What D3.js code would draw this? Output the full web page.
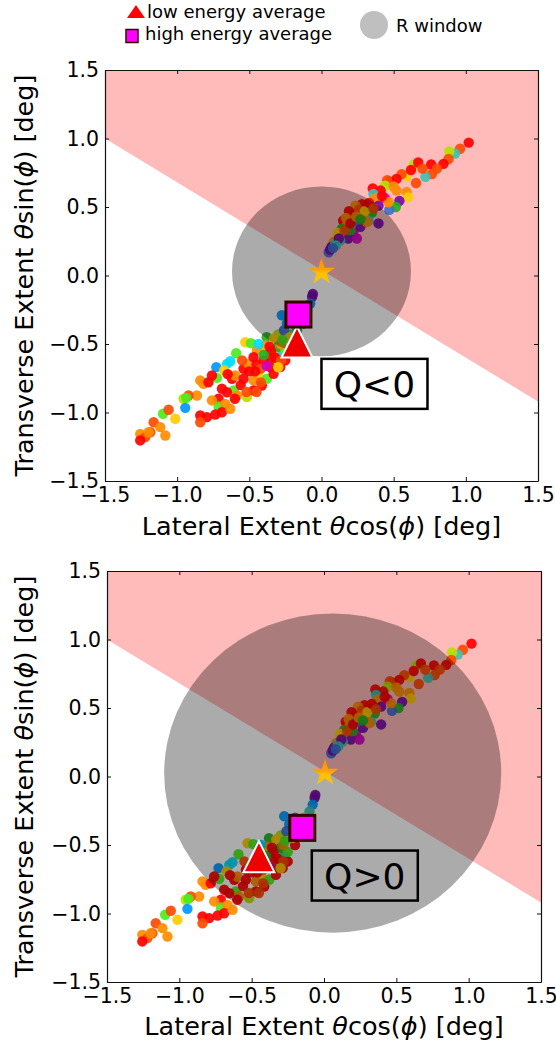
<!DOCTYPE html>
<html>
<head>
<meta charset="utf-8">
<script src="https://cdn.jsdelivr.net/npm/d3@7"></script>
<style>
  body { margin: 0; background: #fff; }
  svg text { font-family: "DejaVu Sans", sans-serif; fill: #000; }
</style>
</head>
<body>
<div id="chart"></div>
<script>
// ---- data ----------------------------------------------------------------
var ticks = [-1.5, -1.0, -0.5, 0.0, 0.5, 1.0, 1.5];
var domain = [-1.5, 1.5];

// cut line bounding the shaded (red) half-plane
var cutLine = [[-1.5, 1.0], [1.5, -0.92]];

// per panel: R window, average markers, star, label
var windowCenter = [[0.0, 0.03], [0.06, 0.025]];
var windowRadius = [0.62, 1.165];
var lowAvg  = [[-0.17, -0.485], [-0.45, -0.585]];
var highAvg = [[-0.16, -0.285], [-0.15, -0.375]];
var starPos = [[0.0, 0.025], [0.007, 0.025]];
var qText = ["Q<0", "Q>0"];
var qPos  = [[0.367, -0.791], [0.282, -0.723]];

// scatter points: lateral, transverse, colour class
var palette = { R: "#ff0000", OR: "#ff4a00", O: "#ff8c00", Y: "#ffcc00", YG: "#b8e000",
  LG: "#4cec1c", G: "#22b022", T: "#40c0b0", C: "#00dcff", A: "#0098ff", B: "#3f6fd0",
  P: "#7a0aa8", M: "#d400c0" };

var ptX = [1.02,0.96,0.925,0.885,0.88,0.845,0.76,0.80,0.765,0.72,0.64,0.67,0.655,0.59,0.555,0.52,0.475,0.455,0.44,0.355,0.52,0.59,0.60,0.41,0.44,0.54,0.515,0.47,0.36,0.37,0.465,0.395,
  0.28,0.235,0.315,0.255,0.35,0.325,0.395,0.21,0.15,0.175,0.14,0.22,0.27,0.185,0.12,0.13,0.085,0.07,0.05,0.095,0.245,0.315,0.19,0.17,0.23,0.26,0.11,0.06,0.20,0.29,
  0.16,0.2,0.24,0.3,0.33,0.12,0.1,0.08,0.27,0.36,0.42,0.5,0.62,0.7,
  -0.06,-0.065,-0.078,-0.10,-0.125,-0.17,-0.24,-0.275,-0.215,-0.30,-0.38,-0.33,-0.2,-0.14,-0.26,
  -0.528,-0.489,-0.591,-0.447,-0.39,-0.378,-0.436,-0.309,-0.274,-0.309,-0.632,-0.655,-0.729,-0.674,-0.724,-0.759,-0.84,-0.817,-0.783,-0.69,-0.62,-0.598,-0.54,-0.506,-0.471,-0.402,-0.355,-0.436,-0.471,-0.54,
  -0.609,-0.655,-0.586,-0.517,-0.471,-0.413,-0.378,-0.332,-0.286,-0.251,-0.713,-0.713,-0.667,-0.759,-0.863,-0.921,-0.956,-0.937,-0.944,-0.84,-0.794,-0.736,-0.69,-0.632,-0.84,
  -1.013,-1.098,-1.059,-1.163,-1.117,-1.186,-1.082,-1.256,-1.221,-1.256,-1.198,
  -0.45,-0.5,-0.42,-0.35,-0.3,-0.25,-0.56,-0.45,-0.38,-0.6,-0.52,-0.2,-0.22,-0.28,-0.35,
  -0.32,-0.28,-0.4,-0.46,-0.42,-0.3,-0.27,-0.36,-0.55,-0.65];
var ptY = [0.97,0.925,0.89,0.905,0.85,0.815,0.81,0.78,0.74,0.72,0.81,0.825,0.675,0.725,0.74,0.705,0.685,0.695,0.655,0.635,0.62,0.61,0.57,0.62,0.565,0.545,0.50,0.48,0.595,0.56,0.535,0.51,
  0.52,0.51,0.50,0.44,0.46,0.40,0.38,0.445,0.40,0.365,0.34,0.315,0.355,0.27,0.29,0.255,0.245,0.21,0.17,0.23,0.27,0.39,0.47,0.42,0.40,0.48,0.31,0.19,0.33,0.43,
  0.33,0.38,0.43,0.47,0.53,0.27,0.22,0.2,0.41,0.49,0.58,0.65,0.77,0.78,
  -0.135,-0.155,-0.205,-0.255,-0.35,-0.40,-0.35,-0.29,-0.43,-0.43,-0.45,-0.46,-0.3,-0.3,-0.4,
  -0.487,-0.494,-0.567,-0.547,-0.511,-0.547,-0.499,-0.572,-0.584,-0.626,-0.626,-0.645,-0.669,-0.693,-0.747,-0.73,-0.766,-0.791,-0.779,-0.827,-0.754,-0.73,-0.681,-0.645,-0.596,-0.62,-0.669,-0.73,-0.766,-0.754,
  -0.839,-0.852,-0.876,-0.888,-0.839,-0.803,-0.754,-0.718,-0.669,-0.62,-0.9,-0.956,-0.937,-0.912,-0.876,-0.876,-0.9,-0.893,-0.966,-1.022,-1.034,-1.015,-0.998,-0.973,-1.071,
  -1.046,-1.009,-0.98,-1.071,-1.107,-1.144,-1.168,-1.156,-1.18,-1.204,-1.144,
  -0.65,-0.7,-0.68,-0.6,-0.52,-0.55,-0.8,-0.85,-0.66,-0.9,-0.85,-0.5,-0.45,-0.5,-0.55,
  -0.6,-0.62,-0.58,-0.7,-0.78,-0.67,-0.47,-0.52,-0.62,-0.72];
var ptC = ["R","OR","T","YG","OR","R","R","OR","OR","T","YG","R","OR","Y","OR","R","R","OR","YG","R","O","O","Y","R","M","P","G","B","T","O","O","P",
  "R","O","R","Y","G","T","P","R","R","O","G","M","P","P","O","T","O","P","B","T","M","O","R","O","B","OR","Y","P","G","O",
  "OR","R","O","Y","R","P","T","B","G","OR","R","O","R","OR",
  "P","P","A","T","B","G","A","A","T","YG","G","Y","B","YG","B",
  "Y","LG","LG","O","O","YG","C","O","C","LG","C","C","A","Y","LG","R","O","O","R","R","R","O","R","O","R","R","R","Y","O","R",
  "LG","R","O","YG","R","R","LG","R","R","R","R","LG","O","O","O","OR","YG","LG","A","R","R","R","R","O","OR",
  "Y","LG","OR","OR","O","OR","O","O","OR","R","O",
  "R","R","OR","R","G","LG","R","OR","M","R","OR","R","Y","O","R",
  "R","OR","G","R","OR","Y","LG","R","OR","R"];

// ---- layout --------------------------------------------------------------
var W = 556, H = 1047;
var panels = [
  { x: [105, 538], y: [481, 70],  titleY: 535 },
  { x: [107, 541], y: [982, 571], titleY: 1035 }
];

var svg = d3.select("#chart").append("svg")
    .attr("width", W)
    .attr("height", H);

var fmt = d3.format(".1f");

function starPath(R) {
  var r = R * 0.382, pts = [];
  for (var i = 0; i < 10; i++) {
    var a = -Math.PI / 2 + i * Math.PI / 5, rr = i % 2 ? r : R;
    pts.push([rr * Math.cos(a), rr * Math.sin(a)]);
  }
  return "M" + pts.join("L") + "Z";
}

var defs = svg.append("defs");
var grad = defs.append("linearGradient").attr("id", "stargrad")
    .attr("x1", 0).attr("y1", 0).attr("x2", 0).attr("y2", 1);
grad.append("stop").attr("offset", "0%").attr("stop-color", "#ff9000");
grad.append("stop").attr("offset", "45%").attr("stop-color", "#ffa000");
grad.append("stop").attr("offset", "60%").attr("stop-color", "#ffc000");
grad.append("stop").attr("offset", "100%").attr("stop-color", "#ffc400");

panels.forEach(function(p, k) {
  var x = d3.scaleLinear().domain(domain).range(p.x);
  var y = d3.scaleLinear().domain(domain).range(p.y);

  defs.append("clipPath").attr("id", "clip" + k)
    .append("rect")
      .attr("x", p.x[0]).attr("y", p.y[1])
      .attr("width", p.x[1] - p.x[0]).attr("height", p.y[0] - p.y[1]);

  var g = svg.append("g").attr("clip-path", "url(#clip" + k + ")");

  // shaded half-plane above the cut line
  var poly = [cutLine[0], cutLine[1], [domain[1], domain[1]], [domain[0], domain[1]]];
  g.append("path")
    .attr("d", "M" + poly.map(function(d) { return [x(d[0]), y(d[1])]; }).join("L") + "Z")
    .style("fill", "#ff0000")
    .style("fill-opacity", 0.27);

  // scatter
  g.selectAll(".pt")
    .data(ptX)
    .enter().append("circle")
      .attr("class", "pt")
      .attr("cx", function(d) { return x(d); })
      .attr("cy", function(d, i) { return y(ptY[i]); })
      .attr("r", 5.2)
      .style("fill", function(d, i) { return palette[ptC[i]]; })
      .style("fill-opacity", 0.92);

  // R window
  g.append("ellipse")
    .attr("cx", x(windowCenter[k][0]))
    .attr("cy", y(windowCenter[k][1]))
    .attr("rx", x(windowRadius[k]) - x(0))
    .attr("ry", y(0) - y(windowRadius[k]))
    .style("fill", "#000")
    .style("fill-opacity", 0.33);

  // star
  g.append("path")
    .attr("d", starPath(14))
    .attr("transform", "translate(" + x(starPos[k][0]) + "," + y(starPos[k][1]) + ")")
    .style("fill", "url(#stargrad)");

  // low energy average (triangle)
  var tw = 31, th = 31;
  g.append("path")
    .attr("d", "M0," + (-th / 2) + "L" + (tw / 2) + "," + (th / 2) + "L" + (-tw / 2) + "," + (th / 2) + "Z")
    .attr("transform", "translate(" + x(lowAvg[k][0]) + "," + y(lowAvg[k][1]) + ")")
    .style("fill", "#ee0000")
    .style("stroke", "#fff")
    .style("stroke-width", 2)
    .style("stroke-linejoin", "miter");

  // high energy average (square)
  var s = 25;
  g.append("rect")
    .attr("x", x(highAvg[k][0]) - s / 2)
    .attr("y", y(highAvg[k][1]) - s / 2)
    .attr("width", s).attr("height", s)
    .style("fill", "#ff00ff")
    .style("stroke", "#3a0000")
    .style("stroke-width", 3);

  // Q label
  var qx = x(qPos[k][0]), qy = y(qPos[k][1]);
  svg.append("rect")
    .attr("x", qx - 53).attr("y", qy - 25)
    .attr("width", 106).attr("height", 50)
    .style("fill", k === 0 ? "#fff" : "none")
    .style("stroke", "#000")
    .style("stroke-width", 2.5);
  svg.append("text")
    .attr("x", qx).attr("y", qy + 13)
    .style("text-anchor", "middle")
    .style("font-size", "36px")
    .text(qText[k]);

  // axes: labelled bottom/left, tick-only top/right, ticks inward
  var axB = svg.append("g").attr("transform", "translate(0," + p.y[0] + ")")
    .call(d3.axisBottom(x).tickValues(ticks).tickFormat(fmt).tickSizeInner(-4).tickSizeOuter(0).tickPadding(6));
  var axL = svg.append("g").attr("transform", "translate(" + p.x[0] + ",0)")
    .call(d3.axisLeft(y).tickValues(ticks).tickFormat(fmt).tickSizeInner(-4).tickSizeOuter(0).tickPadding(6));
  var axT = svg.append("g").attr("transform", "translate(0," + p.y[1] + ")")
    .call(d3.axisTop(x).tickValues(ticks).tickFormat("").tickSizeInner(-4).tickSizeOuter(0));
  var axR = svg.append("g").attr("transform", "translate(" + p.x[1] + ",0)")
    .call(d3.axisRight(y).tickValues(ticks).tickFormat("").tickSizeInner(-4).tickSizeOuter(0));
  [axB, axL, axT, axR].forEach(function(a) {
    a.select(".domain").style("stroke", "#111").style("stroke-width", 1.2);
    a.selectAll(".tick line").style("stroke", "#111");
    a.selectAll("text").style("font-family", "DejaVu Sans").style("font-size", "20.5px").style("fill", "#000");
  });

  // axis titles
  var xt = svg.append("text")
    .attr("x", (p.x[0] + p.x[1]) / 2).attr("y", p.titleY)
    .style("text-anchor", "middle").style("font-size", "25.5px");
  xt.append("tspan").text("Lateral Extent ");
  xt.append("tspan").style("font-style", "italic").text("θ");
  xt.append("tspan").text("cos(");
  xt.append("tspan").style("font-style", "italic").text("ϕ");
  xt.append("tspan").text(") [deg]");

  var yt = svg.append("text")
    .attr("transform", "translate(33," + (p.y[0] + p.y[1]) / 2 + ") rotate(-90)")
    .style("text-anchor", "middle").style("font-size", "25.5px");
  yt.append("tspan").text("Transverse Extent ");
  yt.append("tspan").style("font-style", "italic").text("θ");
  yt.append("tspan").text("sin(");
  yt.append("tspan").style("font-style", "italic").text("ϕ");
  yt.append("tspan").text(") [deg]");
});

// ---- legend --------------------------------------------------------------
var lg = svg.append("g").style("font-size", "18px");
lg.append("path").attr("d", "M136,5L145,18L127,18Z").style("fill", "#ff0000");
lg.append("text").attr("x", 147).attr("y", 18).text("low energy average");
lg.append("rect").attr("x", 126).attr("y", 29.5).attr("width", 12).attr("height", 13)
  .style("fill", "#ff00ff").style("stroke", "#3a0000").style("stroke-width", 1.5);
lg.append("text").attr("x", 145).attr("y", 40).text("high energy average");
lg.append("circle").attr("cx", 374).attr("cy", 25).attr("r", 14).style("fill", "#bfbfbf");
lg.append("text").attr("x", 396).attr("y", 32).text("R window");
</script>
</body>
</html>
